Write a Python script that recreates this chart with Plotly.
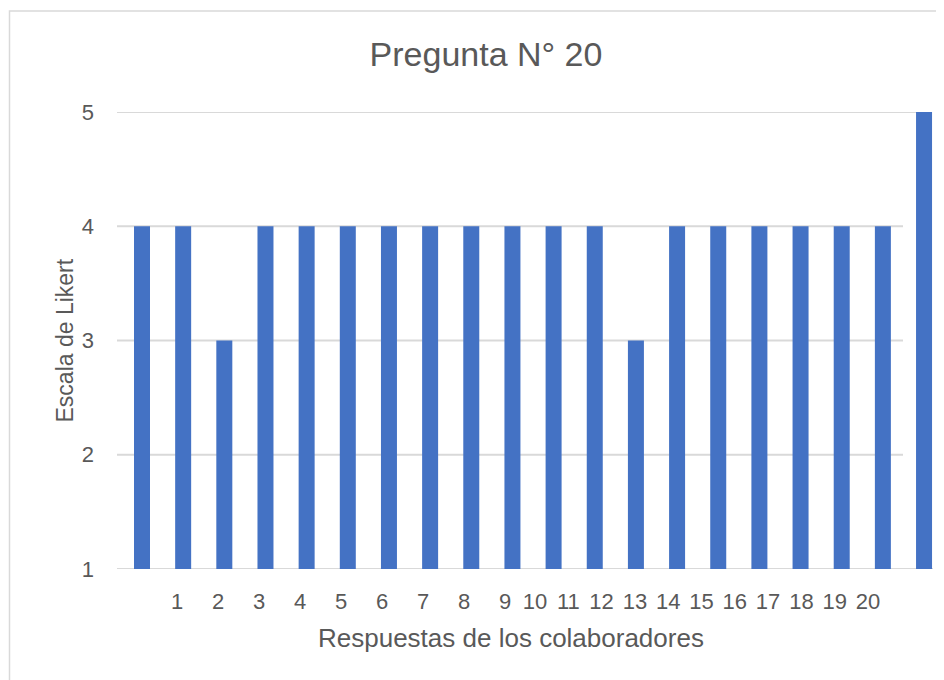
import plotly.graph_objects as go

# ---- data ----
respondents = list(range(1, 21))
values = [4, 4, 3, 4, 4, 4, 4, 4, 4, 4, 4, 4, 3, 4, 4, 4, 4, 4, 4, 5]
tick_labels = [str(i) for i in range(1, 21)]
y_ticks = [1, 2, 3, 4, 5]

title_text = "Pregunta N° 20"
x_title = "Respuestas de los colaboradores"
y_title = "Escala de Likert"

BAR = "#4472C4"
TXT = "#595959"
GRID = "#d9d9d9"
FONT = "Liberation Sans, Arial, sans-serif"

OFF = 8                      # page body margin
W, H = 944 - OFF, 680 - OFF  # figure size
# plot area in page pixels
PL, PR, PT, PB = 117, 944, 112, 569
L, T = PL - OFF, PT - OFF
R = W - (PR - OFF)
B = H - (PB - OFF)
px_unit = 41.16          # pixels per category
bar1_px = 142            # page pixel centre of first bar


def px_to_x(px):
    return 1 + (px - bar1_px) / px_unit


def px_to_paper_x(px):
    return (px - PL) / (PR - PL)


def py_to_paper_y(py):
    return (PB - py) / (PB - PT)


# label positions (rendered offset relative to bars as in the reference)
tick_px = []
for lab in tick_labels:
    k = int(lab)
    if k < 10:
        tick_px.append(177 + 41.0 * (k - 1))
    else:
        tick_px.append(535 + 33.3 * (k - 10))
tick_vals = [px_to_x(p) for p in tick_px]

fig = go.Figure()
fig.add_trace(go.Bar(
    x=respondents, y=values,
    marker=dict(color=BAR, line=dict(width=0)),
    width=16 / px_unit,
    hoverinfo="x+y",
))

shapes = []
grid_end = {1: 933, 2: 903, 3: 903, 4: 903, 5: 930}
for yv in y_ticks:
    shapes.append(dict(type="line", xref="x", yref="y",
                       x0=px_to_x(PL), x1=px_to_x(grid_end[yv]), y0=yv, y1=yv,
                       line=dict(color=GRID, width=2), layer="below"))
# chart border (top and left visible)
shapes.append(dict(type="rect", xref="paper", yref="paper",
                   x0=px_to_paper_x(9.5), x1=1.3,
                   y0=-0.6, y1=py_to_paper_y(11),
                   line=dict(color=GRID, width=1.5), layer="below"))

fig.update_layout(
    width=W, height=H,
    margin=dict(l=L, r=R, t=T, b=B, pad=0),
    paper_bgcolor="white", plot_bgcolor="white",
    showlegend=False,
    font=dict(family=FONT, color=TXT),
    title=dict(text=title_text, x=(486 - OFF) / W, xanchor="center",
               y=1 - (54 - OFF) / H, yanchor="middle", yref="container",
               font=dict(size=34, color=TXT, family=FONT)),
    xaxis=dict(range=[px_to_x(PL), px_to_x(PR)],
               tickmode="array", tickvals=tick_vals, ticktext=tick_labels,
               showgrid=False, zeroline=False, showline=False,
               ticks="", ticklabelstandoff=17,
               tickfont=dict(size=22, color=TXT), fixedrange=True),
    yaxis=dict(range=[1, 5], tickmode="array", tickvals=y_ticks,
               showgrid=False, zeroline=False, showline=False,
               ticks="", ticklabelstandoff=22,
               tickfont=dict(size=22, color=TXT), fixedrange=True),
    shapes=shapes,
    annotations=[
        dict(text=x_title, xref="paper", yref="paper",
             x=px_to_paper_x(511), y=py_to_paper_y(638),
             xanchor="center", yanchor="middle", showarrow=False,
             font=dict(size=26, color=TXT, family=FONT)),
        dict(text=y_title, xref="paper", yref="paper",
             x=px_to_paper_x(64), y=0.5, textangle=-90,
             xanchor="center", yanchor="middle", showarrow=False,
             font=dict(size=23, color=TXT, family=FONT)),
    ],
)

fig.write_html("out.html")
